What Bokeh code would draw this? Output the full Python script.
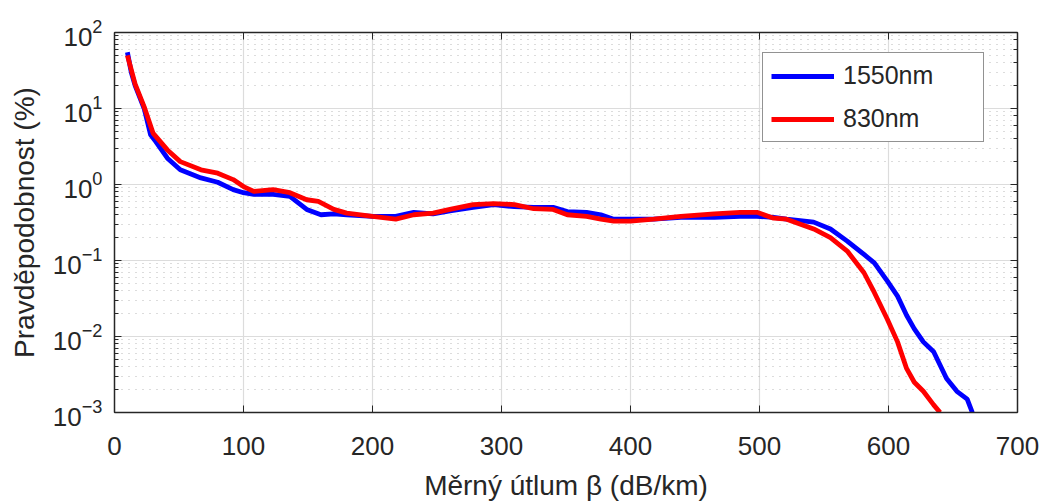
from bokeh.plotting import figure
from bokeh.models import Range1d, LogAxis, LinearAxis, Legend, LegendItem, FixedTicker
from bokeh.embed import file_html
from bokeh.resources import INLINE

x_1550 = [10, 13, 16, 23, 28, 32, 41, 51, 67, 80, 92, 100, 108, 123, 136, 149, 160, 170, 180,
          200, 218, 232, 247, 260, 278, 294, 310, 325, 340, 351, 366, 377, 387, 400, 418, 439,
          465, 485, 498, 511, 521, 542, 555, 568, 581, 589, 599, 607, 614, 620, 627, 635, 645,
          653, 661, 665]
y_1550 = [55, 30, 20, 10, 4.5, 3.66, 2.22, 1.56, 1.22, 1.07, 0.855, 0.78, 0.74, 0.74, 0.70, 0.47,
          0.40, 0.41, 0.40, 0.38, 0.38, 0.43, 0.41, 0.45, 0.50, 0.545, 0.51, 0.50, 0.50, 0.44,
          0.43, 0.40, 0.35, 0.35, 0.35, 0.37, 0.37, 0.38, 0.38, 0.37, 0.35, 0.32, 0.26, 0.18,
          0.12, 0.093, 0.054, 0.034, 0.019, 0.0126, 0.0085, 0.0063, 0.0028, 0.0019, 0.0015, 0.001]

x_830 = [10, 16, 23, 30, 41, 51, 67, 80, 92, 100, 108, 123, 136, 149, 158, 170, 180, 200, 218,
         232, 247, 260, 278, 294, 310, 325, 340, 351, 366, 377, 387, 400, 418, 439, 465, 485,
         498, 511, 521, 542, 555, 568, 581, 589, 599, 607, 614, 620, 627, 635, 640]
y_830 = [50, 21, 10.5, 4.7, 2.85, 2.0, 1.56, 1.41, 1.16, 0.94, 0.81, 0.855, 0.78, 0.63, 0.60,
         0.47, 0.42, 0.38, 0.35, 0.40, 0.42, 0.47, 0.545, 0.56, 0.545, 0.48, 0.47, 0.40, 0.38,
         0.35, 0.33, 0.33, 0.35, 0.38, 0.41, 0.43, 0.43, 0.36, 0.35, 0.26, 0.20, 0.133, 0.069,
         0.038, 0.017, 0.0085, 0.0038, 0.0025, 0.0019, 0.00126, 0.001]

series_labels = ["1550nm", "830nm"]
x_ticks = [0, 100, 200, 300, 400, 500, 600, 700]

FONT = "Liberation Sans"
TXT = "#262626"

p = figure(width=1043, height=503, y_axis_type="log", output_backend="svg",
           toolbar_location=None, x_range=Range1d(0, 700), y_range=Range1d(1e-3, 1e2),
           min_border_left=114, min_border_right=26, min_border_top=32, min_border_bottom=89)
p.outline_line_color = None

r1 = p.line(x_1550, y_1550, line_color="#0000ff", line_width=4.8)
r2 = p.line(x_830, y_830, line_color="#ff0000", line_width=4.8)

xa = p.xaxis[0]
ya = p.yaxis[0]
xa.ticker = FixedTicker(ticks=x_ticks)
xa.axis_label = "Měrný útlum β (dB/km)"
ya.axis_label = "Pravděpodobnost (%)"
for ax in (xa, ya):
    ax.axis_label_text_font = FONT
    ax.axis_label_text_font_style = "normal"
    ax.axis_label_text_font_size = "28px"
    ax.axis_label_text_color = TXT
    ax.major_label_text_font = FONT
    ax.major_label_text_font_size = "26px"
    ax.major_label_text_color = TXT
    ax.axis_line_color = TXT
    ax.axis_line_width = 1.5
    ax.major_tick_line_color = TXT
    ax.minor_tick_line_color = TXT
    ax.major_tick_in = 7
    ax.major_tick_out = 0
    ax.minor_tick_in = 4
    ax.minor_tick_out = 0
xa.minor_tick_line_color = None
xa.major_label_standoff = 24
xa.axis_label_standoff = 12
ya.major_label_standoff = 12
ya.axis_label_standoff = 10

top = LinearAxis(ticker=FixedTicker(ticks=x_ticks), major_label_text_font_size="0px",
                 axis_line_color=TXT, axis_line_width=1.5, major_tick_line_color=TXT,
                 major_tick_in=7, major_tick_out=0, minor_tick_line_color=None)
top.major_label_text_color = None
p.add_layout(top, "above")
right = LogAxis(major_label_text_font_size="0px", axis_line_color=TXT, axis_line_width=1.5,
                major_tick_line_color=TXT, minor_tick_line_color=TXT,
                major_tick_in=7, major_tick_out=0, minor_tick_in=4, minor_tick_out=0)
right.major_label_text_color = None
p.add_layout(right, "right")

p.xgrid.ticker = FixedTicker(ticks=x_ticks)
p.xgrid.grid_line_color = "#dcdcdc"
p.xgrid.grid_line_width = 1.2
p.ygrid.grid_line_color = "#dcdcdc"
p.ygrid.grid_line_width = 1.2
p.ygrid.minor_grid_line_color = "#b8b8b8"
p.ygrid.minor_grid_line_dash = "1 6"
p.ygrid.minor_grid_line_width = 1

legend = Legend(items=[LegendItem(label=series_labels[0], renderers=[r1]),
                       LegendItem(label=series_labels[1], renderers=[r2])],
                location=(648, 270))
legend.label_text_font = FONT
legend.label_text_font_size = "25px"
legend.label_text_color = TXT
legend.glyph_width = 63
legend.glyph_height = 26
legend.label_standoff = 9
legend.label_height = 26
legend.label_width = 132
legend.padding = 8
legend.spacing = 14
legend.margin = 0
legend.border_line_color = TXT
legend.border_line_width = 1.5
legend.background_fill_alpha = 1
p.add_layout(legend, "center")

open("out.html", "w").write(file_html(p, INLINE))
